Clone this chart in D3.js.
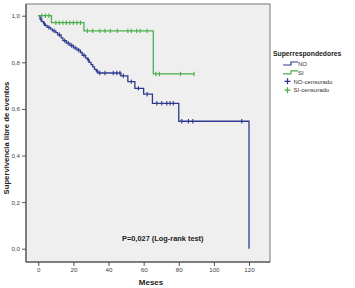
<!DOCTYPE html>
<html>
<head>
<meta charset="utf-8">
<script src="https://cdn.jsdelivr.net/npm/d3@7"></script>
<style>
  body { margin: 0; background: #fff; }
  text { font-family: "Liberation Sans", Arial, sans-serif; }
</style>
</head>
<body>
<main></main>
<script>
const width = 355;
const height = 288;

// Kaplan-Meier steps, group NO
const noTime = [0, 1, 2, 3, 4, 5, 7, 8, 10, 11, 13, 14, 16, 18, 20, 22, 24, 25, 27, 28, 29, 30, 31, 32, 33, 34, 47, 51, 55, 60, 65, 80, 120];
const noSurv = [1.0, 0.985, 0.975, 0.965, 0.958, 0.95, 0.942, 0.935, 0.927, 0.918, 0.905, 0.893, 0.882, 0.872, 0.862, 0.852, 0.842, 0.83, 0.818, 0.81, 0.8, 0.79, 0.78, 0.77, 0.762, 0.754, 0.742, 0.717, 0.688, 0.663, 0.624, 0.547, 0];
const noCensor = [1.5, 3.5, 6, 9, 12, 15, 17, 19, 21, 23, 26, 28.5, 33.5, 35, 38, 42.7, 44.7, 46.5, 48.4, 53, 57, 62, 67.5, 70.3, 73.2, 75, 76.9, 81.7, 85.5, 88, 115.9];

// group SI
const siTime = [0, 7.5, 26, 65.5, 88.7];
const siSurv = [1.0, 0.97, 0.935, 0.75, 0.75];
const siCensor = [2, 4, 6, 10, 12, 14, 16, 18, 20, 22, 24, 28, 31, 35, 38, 41, 45, 51, 53, 56, 58, 62, 67, 69, 81, 88.7];

const xTicks = [0, 20, 40, 60, 80, 100, 120];
const yTicks = [0, 0.2, 0.4, 0.6, 0.8, 1.0];

const blue = "#2f3a8f";
const green = "#4cae4c";

const frame = {left: 26, top: 4, right: 270, bottom: 262};

const svg = d3.select("main")
    .append("svg")
        .attr("width", width)
        .attr("height", height);

const x = d3.scaleLinear().domain([0, 120]).range([38.3, 249]);
const y = d3.scaleLinear().domain([0, 1]).range([248.7, 15.7]);

svg.append("rect")
    .attr("x", frame.left)
    .attr("y", frame.top)
    .attr("width", frame.right - frame.left)
    .attr("height", frame.bottom - frame.top)
    .attr("fill", "#efefef")
    .attr("stroke", "#777")
    .attr("stroke-width", 1);

// axes
const axisY = svg.append("g")
    .attr("transform", `translate(${frame.left},0)`)
    .call(d3.axisLeft(y).tickValues(yTicks).tickSize(4).tickPadding(2)
        .tickFormat(d => d3.format(".1f")(d).replace(".", ",")));
const axisX = svg.append("g")
    .attr("transform", `translate(0,${frame.bottom})`)
    .call(d3.axisBottom(x).tickValues(xTicks).tickSize(4).tickPadding(2));
[axisY, axisX].forEach(a => {
    a.select(".domain").remove();
    a.selectAll(".tick line").attr("stroke", "#555");
    a.selectAll(".tick text").attr("font-size", 6.2).attr("fill", "#444")
        .attr("font-family", "Liberation Sans, Arial, sans-serif");
});
svg.append("line")
    .attr("x1", frame.left).attr("x2", frame.left)
    .attr("y1", frame.top).attr("y2", frame.bottom)
    .attr("stroke", "#444");
svg.append("line")
    .attr("x1", frame.left).attr("x2", frame.right)
    .attr("y1", frame.bottom).attr("y2", frame.bottom)
    .attr("stroke", "#444");

// curves
const line = d3.line()
    .x(d => x(d[0]))
    .y(d => y(d[1]))
    .curve(d3.curveStepAfter);

function drawGroup(times, surv, censor, color) {
    const pts = times.map((t, i) => [t, surv[i]]);
    svg.append("path")
        .datum(pts)
        .attr("d", line)
        .attr("fill", "none")
        .attr("stroke", color)
        .attr("stroke-width", 1.3);
    const bis = d3.bisector(d => d).right;
    svg.append("g")
        .selectAll("line")
        .data(censor)
        .join("line")
            .attr("x1", d => x(d))
            .attr("x2", d => x(d))
            .attr("y1", d => y(surv[bis(times, d) - 1]) - 2.2)
            .attr("y2", d => y(surv[bis(times, d) - 1]) + 2.2)
            .attr("stroke", color)
            .attr("stroke-width", 1.1);
}
drawGroup(noTime, noSurv, noCensor, blue);
drawGroup(siTime, siSurv, siCensor, green);

svg.append("text")
    .attr("x", 122)
    .attr("y", 241)
    .attr("font-size", 7.4)
    .attr("font-weight", "bold")
    .attr("fill", "#222")
    .text("P=0,027 (Log-rank test)");

// axis titles
svg.append("text")
    .attr("x", 151)
    .attr("y", 285)
    .attr("text-anchor", "middle")
    .attr("font-size", 8)
    .attr("font-weight", "bold")
    .attr("fill", "#222")
    .text("Meses");
svg.append("text")
    .attr("transform", "translate(9,138) rotate(-90)")
    .attr("text-anchor", "middle")
    .attr("font-size", 7.7)
    .attr("font-weight", "bold")
    .attr("fill", "#222")
    .text("Supervivencia libre de eventos");

// legend
const legend = svg.append("g");
legend.append("text")
    .attr("x", 273)
    .attr("y", 55.5)
    .attr("font-size", 6.8)
    .attr("font-weight", "bold")
    .attr("fill", "#222")
    .text("Superrespondedores");
const legendRows = [
    {label: "NO", color: blue, kind: "line"},
    {label: "SI", color: green, kind: "line"},
    {label: "NO-censurado", color: blue, kind: "cross"},
    {label: "SI-censurado", color: green, kind: "cross"}
];
legendRows.forEach((r, i) => {
    const cy = 63.5 + i * 8.9;
    if (r.kind === "line") {
        legend.append("path")
            .attr("d", `M283,${cy + 1.5}H291V${cy - 1.5}H298`)
            .attr("fill", "none")
            .attr("stroke", r.color)
            .attr("stroke-width", 1.2);
        legend.append("text")
            .attr("x", 298).attr("y", cy + 2.2)
            .attr("font-size", 6).attr("fill", "#333")
            .text(r.label);
    } else {
        legend.append("path")
            .attr("d", `M284.5,${cy}H290.5M287.5,${cy - 3}V${cy + 3}`)
            .attr("stroke", r.color)
            .attr("stroke-width", 1.3);
        legend.append("text")
            .attr("x", 293.5).attr("y", cy + 2.2)
            .attr("font-size", 6).attr("fill", "#333")
            .text(r.label);
    }
});
</script>
</body>
</html>
